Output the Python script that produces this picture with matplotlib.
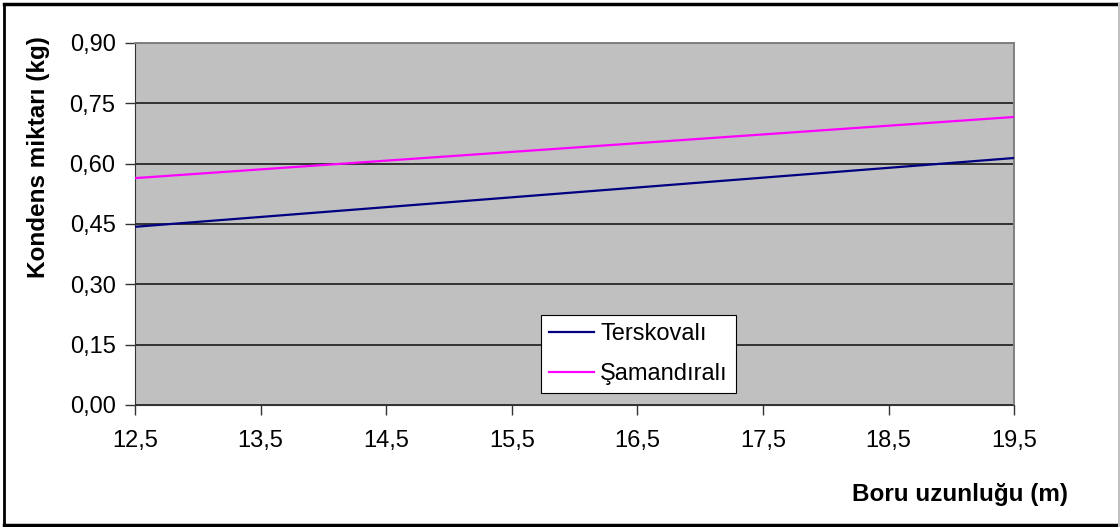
import matplotlib.pyplot as plt
from matplotlib.lines import Line2D
from matplotlib.ticker import FuncFormatter

plt.rcParams['font.family'] = ['Liberation Sans', 'DejaVu Sans']

# Condensate amount vs. pipe length
boru_uzunlugu = [12.5, 19.5]
terskovali = [0.443, 0.614]
samandirali = [0.564, 0.716]
x_ticks = [12.5, 13.5, 14.5, 15.5, 16.5, 17.5, 18.5, 19.5]
y_ticks = [0.0, 0.15, 0.30, 0.45, 0.60, 0.75, 0.90]

fig = plt.figure(figsize=(11.2, 5.27), dpi=100)
ax = fig.add_axes([0.1205, 0.2315, 0.785, 0.687])
ax.set_facecolor('#c0c0c0')

ax.plot(boru_uzunlugu, terskovali, color='#000080', lw=1.6, label='Terskovalı', zorder=3)
ax.plot(boru_uzunlugu, samandirali, color='#ff00ff', lw=1.6, label='Şamandıralı', zorder=3)

ax.set_xlim(12.5, 19.5)
ax.set_ylim(0, 0.9)
ax.set_xticks(x_ticks)
ax.set_yticks(y_ticks)
ax.xaxis.set_major_formatter(FuncFormatter(lambda v, p: f"{v:.1f}".replace('.', ',')))
ax.yaxis.set_major_formatter(FuncFormatter(lambda v, p: f"{v:.2f}".replace('.', ',')))
ax.tick_params(axis='both', labelsize=17, length=7, width=1, direction='out', color='#333333')
ax.tick_params(axis='x', pad=11)
ax.tick_params(axis='y', pad=7)

ax.yaxis.grid(True, color='#333333', lw=1.4)
ax.set_axisbelow(True)
for side in ['left', 'bottom']:
    ax.spines[side].set_color('#333333')
for side in ['top', 'right']:
    ax.spines[side].set_color('#808080')
    ax.spines[side].set_linewidth(1.4)

fig.text(0.034, 0.702, 'Kondens miktarı (kg)', fontsize=17.5, fontweight='bold',
         rotation=90, ha='center', va='center')
fig.text(0.954, 0.062, 'Boru uzunluğu (m)', fontsize=17.5, fontweight='bold',
         ha='right', va='center')

leg = ax.legend(loc='lower left', bbox_to_anchor=(0.462, 0.0325), fontsize=17,
                frameon=True, fancybox=False, framealpha=1, edgecolor='black',
                handlelength=1.9, handletextpad=0.25, borderpad=0.35, labelspacing=0.75,
                borderaxespad=0)
leg.get_frame().set_linewidth(0.8)

# outer chart border
fig.add_artist(Line2D([0.004, 0.998], [0.992, 0.992], color='black', lw=2.5))
fig.add_artist(Line2D([0.004, 0.004], [0.002, 0.992], color='black', lw=2.0))
fig.add_artist(Line2D([0.004, 0.998], [0.003, 0.003], color='black', lw=2.5))
fig.add_artist(Line2D([0.999, 0.999], [0.002, 0.992], color='#c0c0c0', lw=1.5))

fig.savefig('out.png', dpi=100)
